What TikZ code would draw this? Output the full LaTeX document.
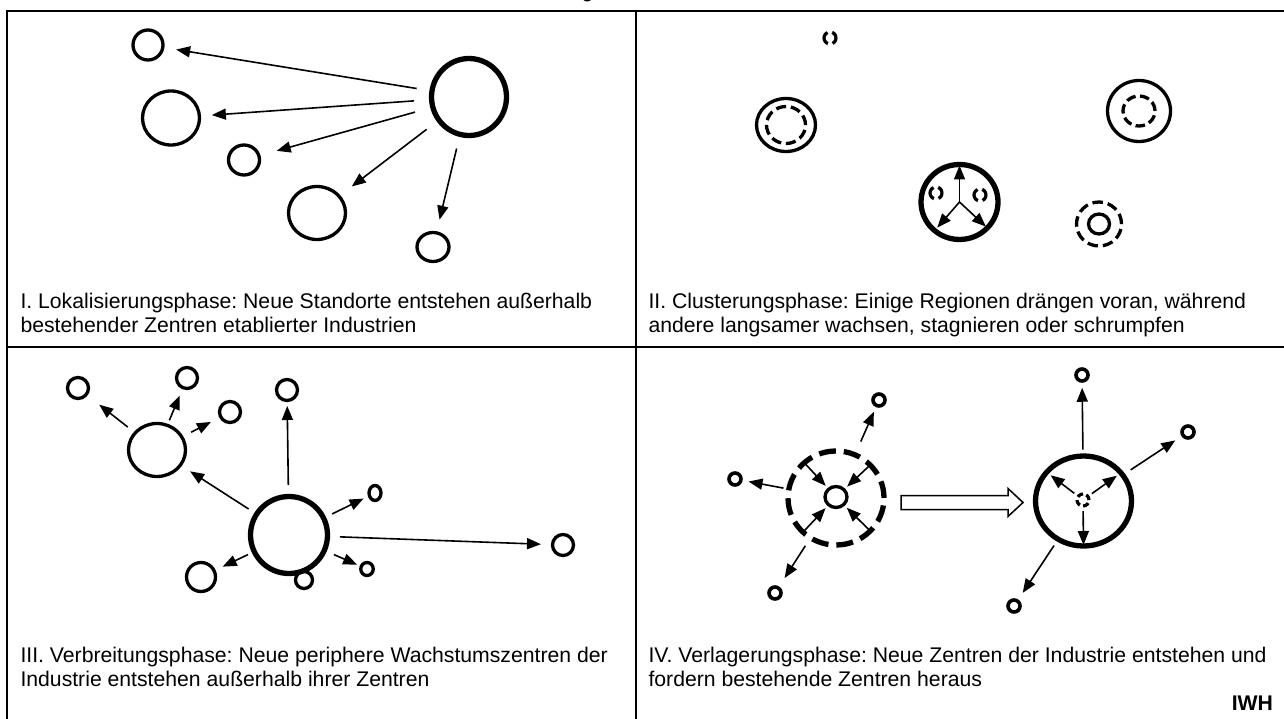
\documentclass[tikz,border=0pt]{standalone}
\usepackage{fontspec}
\setmainfont{Liberation Sans}
\usetikzlibrary{arrows.meta,shapes.geometric}
\frenchspacing
\tikzset{
  ring/.style 2 args={ellipse, draw, line width=3.3pt, inner sep=0pt, outer sep=0pt, minimum width=#1pt, minimum height=#2pt},
  thickring/.style 2 args={ellipse, draw, line width=5.3pt, inner sep=0pt, outer sep=0pt, minimum width=#1pt, minimum height=#2pt},
  dot/.style={ellipse, draw, line width=3.6pt, inner sep=0pt, outer sep=0pt, minimum width=12pt, minimum height=12pt},
  tinydash/.style={circle, draw, line width=3.2pt, inner sep=0pt, outer sep=0pt, minimum size=12pt, dash pattern=on 14pt off 4.85pt, dash phase=7pt},
  arr/.style={line width=1.6pt, -{Triangle[length=14pt,width=11pt]}},
  frame/.style={line width=2.5pt, line join=miter},
  captext/.style={inner sep=0pt, outer sep=0pt, font=\fontsize{21.2}{24.4}\selectfont},
  hollow/.style={line width=1.5pt, line join=miter, fill=white}
}
\begin{document}
\begin{tikzpicture}[x=1pt,y=-1pt]
\useasboundingbox (0,0) rectangle (1284,719);
\fill[white] (0,0) rectangle (1284,719);

% cut-off fragment of a title above the frame
\begin{scope}
\clip (0,0) rectangle (1284,719);
\node[captext, anchor=base] (gfrag) at (587.5,-2.5) {g};
\end{scope}

% frame
\draw[frame] (7,719) -- (7,11) -- (1284,11);
\draw[frame] (7,347) -- (1284,347);
\draw[frame] (636,11) -- (636,719);

% ---------- Panel I ----------
\node[thickring={75}{77}] (Ibig) at (469,97) {};
\node[ring={30}{30}] (Ia) at (148,45) {};
\node[ring={57}{54}] (Ib) at (171,118) {};
\node[ring={31}{30}] (Ic) at (244,160) {};
\node[ring={57}{53}] (Id) at (317,213) {};
\node[ring={32}{29}] (Ie) at (433,247) {};
\draw[arr, shorten <=15.5pt, shorten >=13.5pt] (Ibig) -- (Ia);
\draw[arr, shorten <=17.5pt, shorten >=12.5pt] (Ibig) -- (Ib);
\draw[arr, shorten <=18.5pt, shorten >=18.5pt] (Ibig) -- (Ic);
\draw[arr, shorten <=15.5pt, shorten >=16pt] (Ibig) -- (Id);
\draw[arr, shorten <=14.5pt, shorten >=13.5pt] (Ibig) -- (Ie);
\node[captext, anchor=base west] (capIa) at (20.5,308.3) {I. Lokalisierungsphase: Neue Standorte entstehen außerhalb};
\node[captext, anchor=base west] (capIb) at (20.5,332.7) {bestehender Zentren etablierter Industrien};

% ---------- Panel II ----------
\node[tinydash] (IIt) at (830,38) {};
\node[ring={59}{53}] (IIA) at (786,125) {};
\node[ring={39}{37}, dash pattern=on 10pt off 4.9pt] (IIAi) at (786,125) {};
\node[ring={63}{61}] (IIB) at (1139,111) {};
\node[ring={32}{30}, dash pattern=on 9.5pt off 4.4pt] (IIBi) at (1139,111) {};
\node[thickring={77}{75}] (IIC) at (959.5,202) {};
\node[tinydash] (IICa) at (936,193) {};
\node[tinydash] (IICb) at (980,195) {};
\draw[arr, shorten >=1pt] (IIC.center) -- (IIC.90);
\draw[arr, shorten >=4pt] (IIC.center) -- (IIC.229);
\draw[arr, shorten >=2pt] (IIC.center) -- (IIC.317);
\node[ring={45}{44}, dash pattern=on 10.5pt off 5pt] (IID) at (1099,224) {};
\node[ring={21}{20}] (IIDi) at (1099,224) {};
\node[captext, anchor=base west] (capIIa) at (648.5,308.3) {II. Clusterungsphase: Einige Regionen drängen voran, während};
\node[captext, anchor=base west] (capIIb) at (648.5,332.7) {andere langsamer wachsen, stagnieren oder schrumpfen};

% ---------- Panel III ----------
\node[thickring={77}{77}] (IIIc) at (289,535) {};
\node[ring={57}{53}] (IIIm) at (157,450) {};
\node[ring={21}{21}] (IIIa) at (78,388) {};
\node[ring={21}{21}] (IIIb) at (187,378) {};
\node[ring={21}{21}] (IIIcc) at (230,412) {};
\node[ring={21}{21}] (IIId) at (287,390) {};
\node[ring={21}{21}] (IIIe) at (563,545) {};
\node[ring={12}{15}] (IIIf) at (375,493) {};
\node[ring={12.5}{13}] (IIIg) at (367,569) {};
\node[ring={17}{17}] (IIIh) at (304,580) {};
\node[ring={29}{29}] (IIIi) at (201,577) {};
\draw[arr, shorten <=9.5pt, shorten >=11.5pt] (IIIc) -- (IIIm);
\draw[arr, shorten <=11.5pt, shorten >=5.5pt] (IIIc) -- (IIId);
\draw[arr, shorten <=9.5pt, shorten >=6.5pt] (IIIc) -- (IIIf);
\draw[arr, shorten <=12.5pt, shorten >=11.5pt] (IIIc) -- (IIIe);
\draw[arr, shorten <=10.5pt, shorten >=4.5pt] (IIIc) -- (IIIg);
\draw[arr, shorten <=7pt, shorten >=9.5pt] (IIIc) -- (IIIi);
\draw[arr, shorten <=9.5pt, shorten >=16.5pt] (IIIm) -- (IIIa);
\draw[arr, shorten <=5.5pt, shorten >=8.5pt] (IIIm) -- (IIIb);
\draw[arr, shorten <=10.5pt, shorten >=11pt] (IIIm) -- (IIIcc);
\node[captext, anchor=base west] (capIIIa) at (20.5,662) {III. Verbreitungsphase: Neue periphere Wachstumszentren der};
\node[captext, anchor=base west] (capIIIb) at (20.5,686.4) {Industrie entstehen außerhalb ihrer Zentren};

% ---------- Panel IV ----------
\node[thickring={96}{94}, dash pattern=on 17pt off 7.9pt] (IVL) at (836,498) {};
\node[ring={22}{21}] (IVLi) at (836,497) {};
\node[dot] (IVa) at (735,479) {};
\node[dot] (IVb) at (879,400) {};
\node[dot] (IVc) at (775,593) {};
\node[dot] (IVd) at (1082,375) {};
\node[dot] (IVe) at (1188,432) {};
\node[dot] (IVf) at (1014,606) {};
\draw[arr, shorten <=5.5pt, shorten >=7.75pt] (IVL) -- (IVa);
\draw[arr, shorten <=14.5pt, shorten >=6.75pt] (IVL) -- (IVb);
\draw[arr, shorten <=9.5pt, shorten >=11.75pt] (IVL) -- (IVc);
\draw[arr, shorten >=4.5pt] (IVL.132) -- (IVLi);
\draw[arr, shorten >=4.5pt] (IVL.44) -- (IVLi);
\draw[arr, shorten >=4.5pt] (IVL.226) -- (IVLi);
\draw[arr, shorten >=4.5pt] (IVL.316) -- (IVLi);
\draw[hollow] (901,495.5) -- (1008,495.5) -- (1008,488.5) -- (1023,502.5) -- (1008,516.5) -- (1008,509.5) -- (901,509.5) -- cycle;
\node[thickring={96}{90}] (IVR) at (1083.5,501) {};
\node[circle, draw, line width=3.2pt, inner sep=0pt, outer sep=0pt, minimum size=12pt, dash pattern=on 6pt off 3.4pt] (IVRi) at (1083,500) {};
\draw[arr, shorten <=6.5pt, shorten >=6.75pt] (IVR) -- (IVd);
\draw[arr, shorten <=9.5pt, shorten >=9.25pt] (IVR) -- (IVe);
\draw[arr, shorten <=7.5pt, shorten >=9.75pt] (IVR) -- (IVf);
\draw[arr, shorten <=5pt, shorten >=5pt] (IVRi) -- (IVR.142);
\draw[arr, shorten <=5pt, shorten >=5pt] (IVRi) -- (IVR.37);
\draw[arr, shorten <=5pt, shorten >=1pt] (IVRi) -- (IVR.270);
\node[captext, anchor=base west] (capIVa) at (648.5,662) {IV. Verlagerungsphase: Neue Zentren der Industrie entstehen und};
\node[captext, anchor=base west] (capIVb) at (648.5,686.4) {fordern bestehende Zentren heraus};
\node[captext, font=\fontsize{21.2}{24.4}\selectfont\bfseries, anchor=base east] (iwh) at (1273,710) {IWH};
\end{tikzpicture}
\end{document}
